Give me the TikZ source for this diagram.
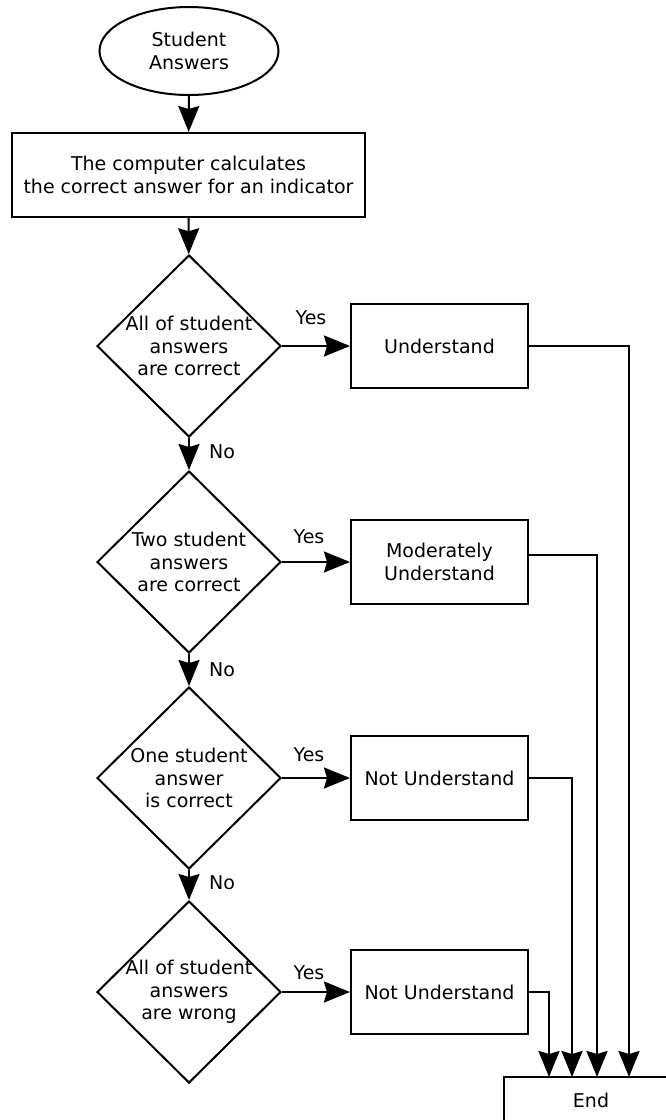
\documentclass[tikz,border=0pt]{standalone}
\usepackage{fontspec}
\setmainfont{DejaVu Sans}
\usetikzlibrary{shapes.geometric,arrows.meta}
\begin{document}
\begin{tikzpicture}[x=1pt,y=-1pt,
  line width=2pt,
  font=\fontsize{19}{22.5}\selectfont,
  arr/.style={-{Stealth[length=26pt,width=21pt,inset=3pt]}},
  procbox/.style={draw, rectangle, minimum width=177pt, minimum height=84pt, align=center, inner sep=0pt},
  dia/.style={draw, diamond, minimum width=184pt, minimum height=182pt, inner sep=0pt},
  txt/.style={align=center, inner sep=0pt}]
\useasboundingbox (0,0) rectangle (666,1120);
\fill[white] (0,0) rectangle (666,1120);
% start
\node[draw, ellipse, minimum width=179pt, minimum height=88pt, align=center, inner sep=0pt] (start) at (189,51) {Student\\Answers};
\node[draw, rectangle, minimum width=353pt, minimum height=84pt, align=center, inner sep=0pt] (calc) at (188.5,175) {The computer calculates\\the correct answer for an indicator};
% decisions
\node[dia] (d1) at (189,346) {};
\node[txt] (d1t) at (189,346) {All of student\\answers\\are correct};
\node[dia] (d2) at (189,562) {};
\node[txt] (d2t) at (189,562) {Two student\\answers\\are correct};
\node[dia] (d3) at (189,778) {};
\node[txt] (d3t) at (189,778) {One student\\answer\\is correct};
\node[dia] (d4) at (189,992) {};
\node[txt] (d4t) at (189,992) {All of student\\answers\\are wrong};
% results
\node[procbox] (u1) at (439.5,346) {Understand};
\node[procbox] (u2) at (439.5,562) {Moderately\\Understand};
\node[procbox] (u3) at (439.5,778) {Not Understand};
\node[procbox] (u4) at (439.5,992) {Not Understand};
% end
\node[draw, rectangle, minimum width=174pt, minimum height=46pt, inner sep=0pt] (end) at (591,1100) {End};
\coordinate (t1) at (629,1077);
\coordinate (t2) at (597,1077);
\coordinate (t3) at (572,1077);
\coordinate (t4) at (549,1077);
% main flow
\draw[arr] (start) -- (calc);
\draw[arr] (calc) -- (d1);
\draw[arr] (d1) -- (d2);
\draw[arr] (d2) -- (d3);
\draw[arr] (d3) -- (d4);
\draw[arr] (d1) -- (u1);
\draw[arr] (d2) -- (u2);
\draw[arr] (d3) -- (u3);
\draw[arr] (d4) -- (u4);
% to end
\draw[arr] (u1.east) -| (t1);
\draw[arr] ([yshift=7pt]u2.east) -| (t2);
\draw[arr] (u3.east) -| (t3);
\draw[arr] (u4.east) -| (t4);
% labels
\node[txt] (y1) at (311,318) {Yes};
\node[txt] (y2) at (309,537) {Yes};
\node[txt] (y3) at (309,755) {Yes};
\node[txt] (y4) at (309,973) {Yes};
\node[txt] (n1) at (222,452) {No};
\node[txt] (n2) at (222,670) {No};
\node[txt] (n3) at (222,883) {No};
\end{tikzpicture}
\end{document}
